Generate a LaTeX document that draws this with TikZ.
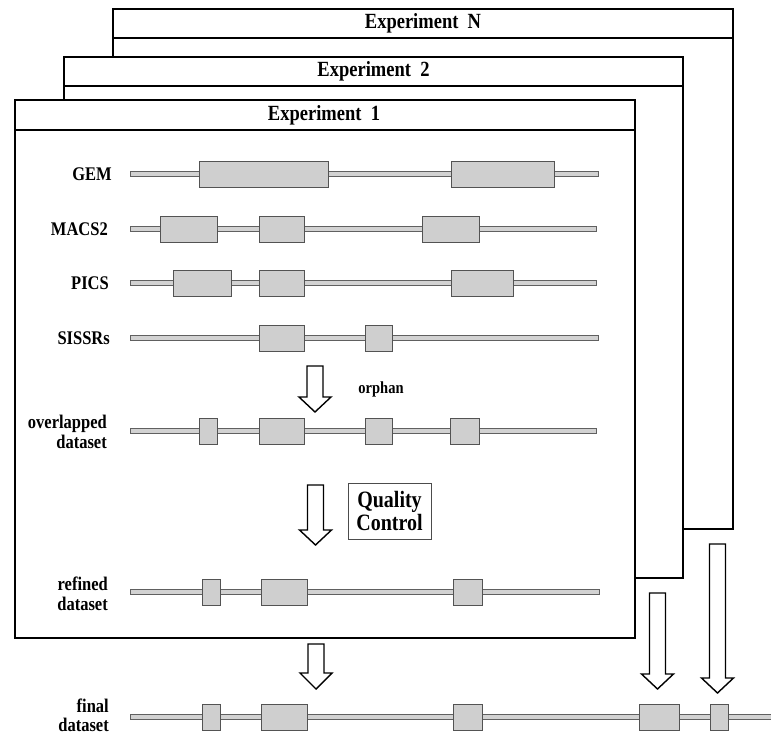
\documentclass[tikz,border=0pt]{standalone}
\usepackage{graphicx}
\usepackage{fontspec}
\setmainfont{Liberation Serif}
\newcommand\vs[1]{\scalebox{1}[1.17]{#1}}
\tikzset{
  frame/.style={draw=black, line width=1.6pt, fill=white},
  frameline/.style={draw=black, line width=1.6pt},
  title/.style={font=\fontsize{18.5}{20}\selectfont\bfseries, inner sep=0},
  track/.style={draw=gray!75!black, fill=gray!35, line width=0.6pt},
  peak/.style={draw=gray!65!black, fill=gray!38, line width=0.8pt},
  lbl/.style={anchor=east, font=\fontsize{16.5}{20}\selectfont\bfseries, align=right, inner sep=0},
  blk/.style={draw=black, fill=white, line width=1.4pt, line join=miter},
}
\newcommand\mytrack[4]{%
  \draw[track] (130,#1-2.5) rectangle (#2,#1+2.5);
  \foreach \a/\b in {#3} \draw[peak] (\a,#1-13) rectangle (\b,#1+13);
  \coordinate (#4) at (130,#1);
}
\newcommand\blockarrow[5]{%
  \coordinate (#5) at (#1,#4);
  \draw[blk] (#1-8,#2) -- (#1+8,#2) -- (#1+8,#3) -- (#1+16,#3) -- (#1,#4) -- (#1-16,#3) -- (#1-8,#3) -- cycle;
}
\begin{document}
\begin{tikzpicture}[x=1pt,y=-1pt]
\useasboundingbox (0,0) rectangle (771,736);
% Experiment N
\draw[frame] (113,9) rectangle (733,529);
\draw[frameline] (113,38) -- (733,38);
\node[title] (tN) at (423,23.5) {\vs{Experiment\ \ N}};
% Experiment 2
\draw[frame] (64,57) rectangle (683,578);
\draw[frameline] (64,86) -- (683,86);
\node[title] (t2) at (373.5,71.5) {\vs{Experiment\ \ 2}};
% Experiment 1
\draw[frame] (15,100) rectangle (635,638);
\draw[frameline] (15,130) -- (635,130);
\node[title] (t1) at (324,115) {\vs{Experiment\ \ 1}};

% tracks
\node[lbl] (lgem) at (112,174) {\vs{GEM}};
\mytrack{174}{598}{199/328,451/554}{tgem}
\node[lbl] (lmacs) at (108,229) {\vs{MACS2}};
\mytrack{229}{596}{160/217,259/304,422/479}{tmacs}
\node[lbl] (lpics) at (109,283) {\vs{PICS}};
\mytrack{283}{596}{173/231,259/304,451/513}{tpics}
\node[lbl] (lsissr) at (110,338) {\vs{SISSRs}};
\mytrack{338}{598}{259/304,365/392}{tsissr}
\node[lbl] (lover) at (107,432) {\vs{overlapped}\\\vs{dataset}};
\mytrack{431}{596}{199/217,259/304,365/392,450/479}{tover}
\node[lbl] (lref) at (108,594) {\vs{refined}\\\vs{dataset}};
\mytrack{592}{599}{202/220,261/307,453/482}{tref}
\node[lbl, font=\fontsize{16.5}{19}\selectfont\bfseries] (lfin) at (109,715.5) {\vs{final}\\\vs{dataset}};
\mytrack{717}{775}{202/220,261/307,453/482,639/679,710/728}{tfin}

% labels
\node[font=\fontsize{14.5}{16}\selectfont\bfseries, inner sep=0] (orph) at (381,389) {\vs{orphan}};
\node[draw=gray!60!black, line width=0.8pt, minimum width=83pt, minimum height=56pt,
      font=\fontsize{20}{21}\selectfont\bfseries, align=center, inner sep=0] (qc) at (389.5,511) {\vs{Quality}\\\vs{Control}};

% block arrows
\blockarrow{315}{366}{397}{412}{a1}
\blockarrow{315.5}{485}{530}{545}{a2}
\blockarrow{316}{644}{673}{689}{a3}
\blockarrow{657.5}{593}{674}{689}{a4}
\blockarrow{717.5}{544}{678}{693}{a5}
\end{tikzpicture}
\end{document}
